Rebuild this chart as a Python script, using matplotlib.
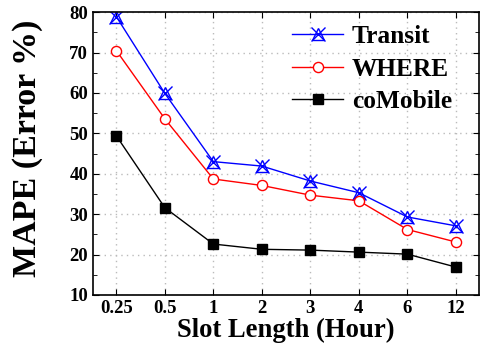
import matplotlib.pyplot as plt
from matplotlib.ticker import MultipleLocator
from matplotlib.legend_handler import HandlerTuple

slot_labels = ['0.25', '0.5', '1', '2', '3', '4', '6', '12']
transit = [78.9, 59.9, 43.0, 41.9, 38.2, 35.3, 29.3, 27.1]
where = [70.5, 53.6, 38.7, 37.1, 34.7, 33.3, 26.2, 23.1]
comobile = [49.4, 31.6, 22.6, 21.3, 21.1, 20.6, 20.1, 16.9]

plt.rcParams['font.family'] = 'Liberation Serif'
plt.rcParams['font.weight'] = 'bold'

fig = plt.figure(figsize=(4.87, 3.47), dpi=100)
ax = fig.add_axes([0.191, 0.150, 0.793, 0.815])

x = list(range(len(slot_labels)))

# Transit marker is a triangle with an X drawn over it
t_line, = ax.plot(x, transit, color='blue', lw=1, marker='^', ms=8, mfc='none', mec='blue', mew=1)
t_x, = ax.plot(x, transit, color='blue', lw=0, marker='x', ms=10, mew=1)
w_line, = ax.plot(x, where, color='red', lw=1, marker='o', ms=7.3, mfc='white', mec='red', mew=1)
c_line, = ax.plot(x, comobile, color='black', lw=1, marker='s', ms=7, mfc='black', mec='black')

ax.set_xlim(-0.48, 7.48)
ax.set_ylim(10, 80)
ax.set_xticks(x)
ax.set_xticklabels(slot_labels)
ax.yaxis.set_major_locator(MultipleLocator(10))
ax.yaxis.set_minor_locator(MultipleLocator(5))
ax.tick_params(which='both', direction='in', top=True, right=True, labelsize=13.5)
ax.tick_params(which='major', length=4)
ax.tick_params(which='minor', length=3)
ax.grid(True, which='major', color='#bbbbbb', linestyle=(0, (1, 3)), lw=1)
for s in ax.spines.values():
    s.set_linewidth(1.2)

ax.set_xlabel('Slot Length (Hour)', fontsize=19.2, fontweight='bold', labelpad=0.5)
ax.set_ylabel('MAPE (Error %)', fontsize=24.5, fontweight='bold')
ax.yaxis.set_label_coords(-0.13, 0.519)

ax.legend([(t_line, t_x), w_line, c_line], ['Transit', 'WHERE', 'coMobile'],
          handler_map={tuple: HandlerTuple(ndivide=1)},
          loc='upper right', bbox_to_anchor=(0.93, 0.955), frameon=False,
          fontsize=18.3, handlelength=2.0, labelspacing=0.38, handletextpad=0.35,
          borderaxespad=0, borderpad=0)

fig.savefig('out.png', dpi=100)
